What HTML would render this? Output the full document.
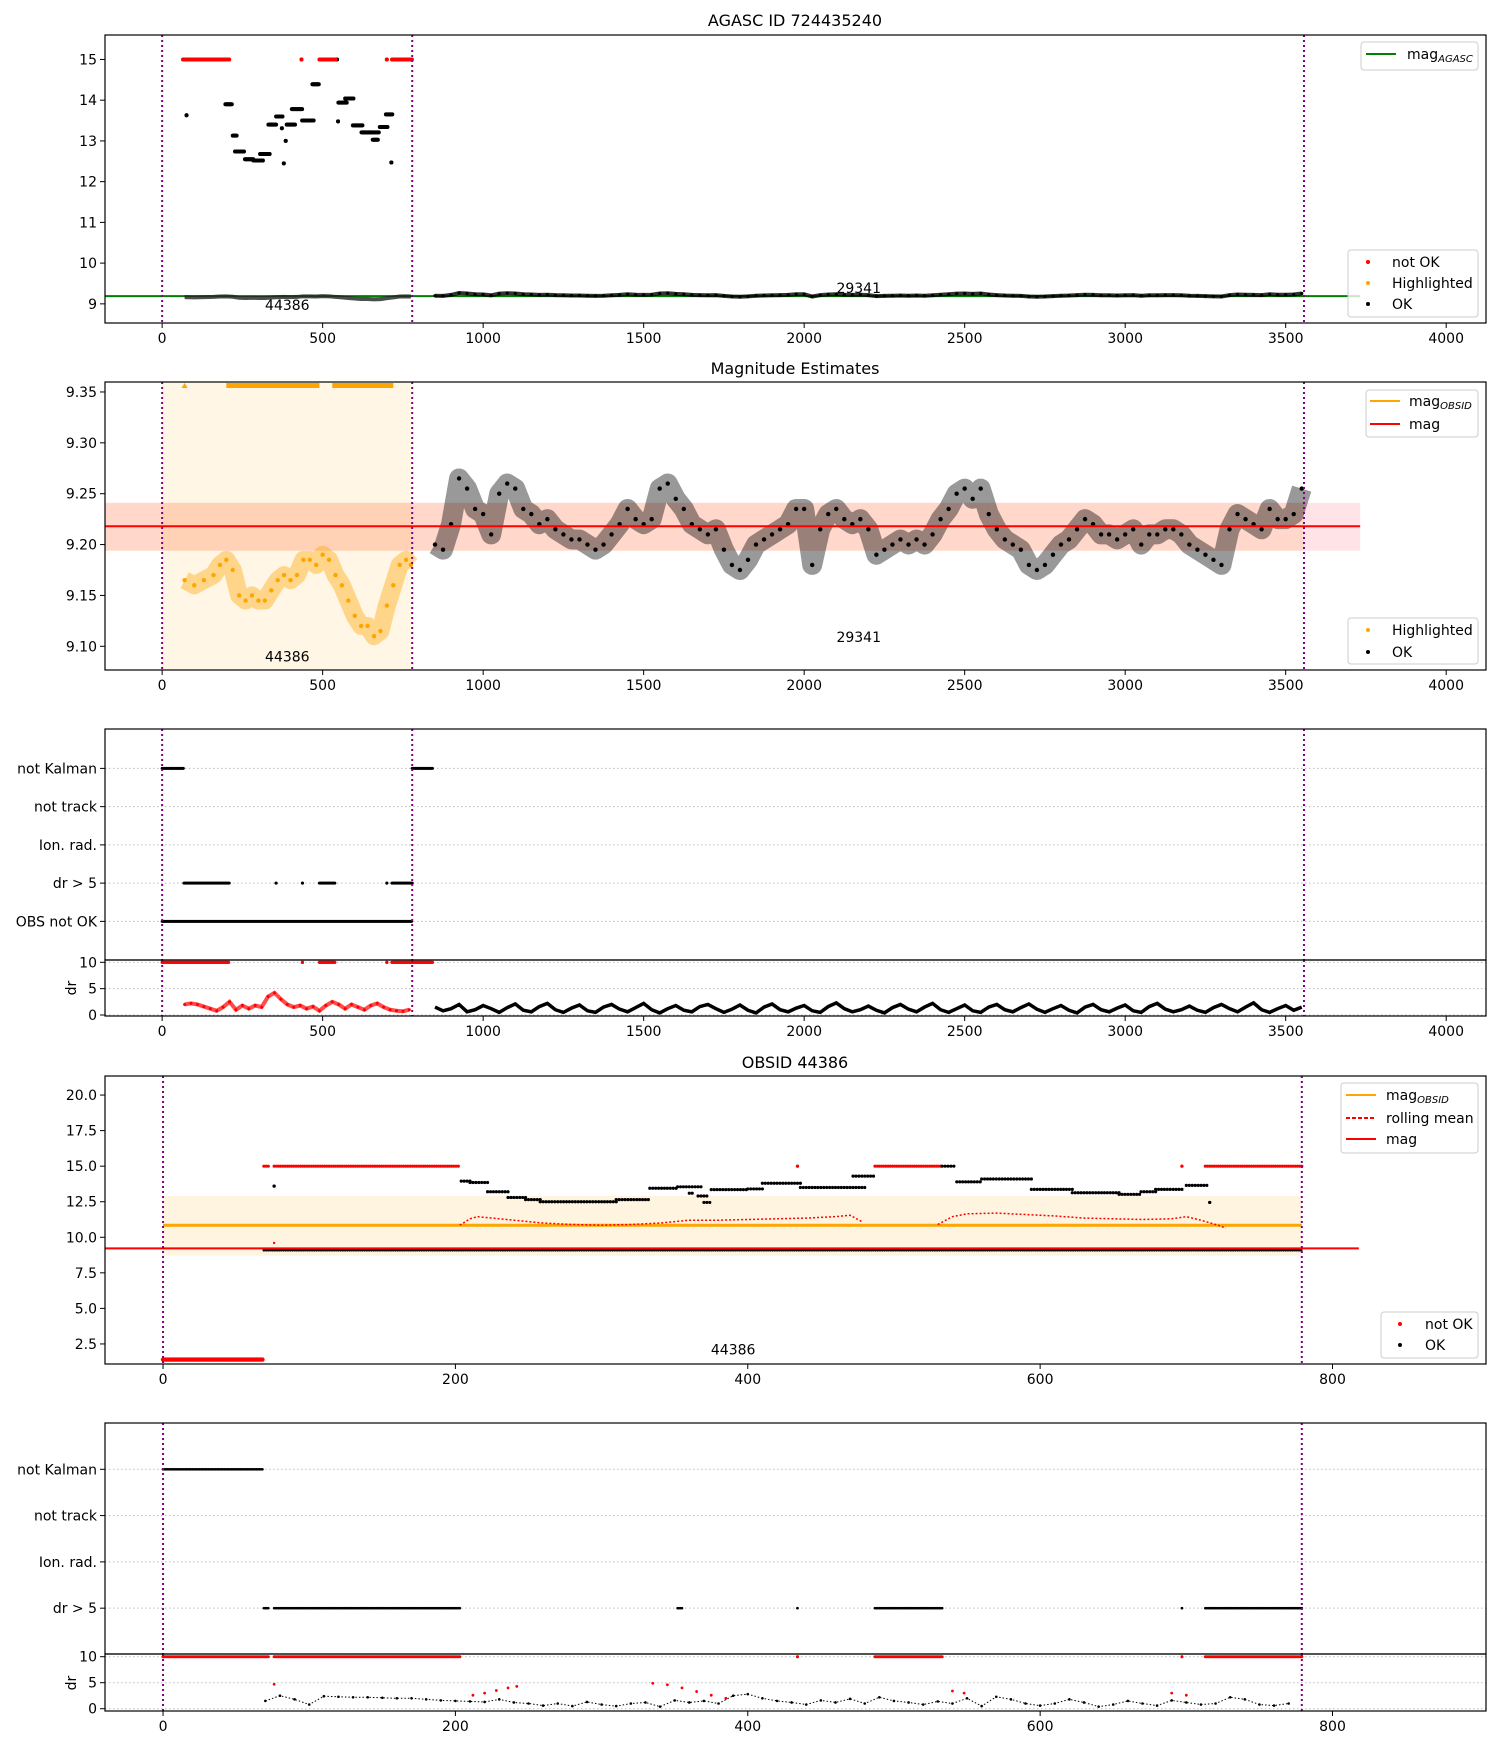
<!DOCTYPE html>
<html><head><meta charset="utf-8"><title>AGASC 724435240</title>
<style>
html,body{margin:0;padding:0;background:#fff;}
svg{display:block;font-family:"DejaVu Sans","Liberation Sans",sans-serif;}
</style></head>
<body>
<svg id="fig" width="1500" height="1750" viewBox="0 0 1500 1750" xmlns="http://www.w3.org/2000/svg"></svg>
<script>
// ---------- data ----------
const magStart = 850;
const magStep = 25;
const magOK = [9.20,9.195,9.22,9.265,9.255,9.235,9.23,9.21,9.25,9.26,9.255,9.235,9.23,9.22,9.225,9.215,9.21,9.205,9.205,9.2,9.195,9.2,9.21,9.22,9.235,9.225,9.22,9.225,9.255,9.26,9.245,9.235,9.22,9.215,9.21,9.215,9.195,9.18,9.175,9.185,9.2,9.205,9.21,9.215,9.22,9.235,9.235,9.18,9.215,9.23,9.235,9.225,9.22,9.225,9.215,9.19,9.195,9.2,9.205,9.2,9.205,9.2,9.21,9.225,9.235,9.25,9.255,9.245,9.255,9.23,9.215,9.205,9.2,9.195,9.18,9.175,9.18,9.19,9.2,9.205,9.215,9.225,9.22,9.21,9.21,9.205,9.21,9.215,9.2,9.21,9.21,9.215,9.215,9.21,9.2,9.195,9.19,9.185,9.18,9.215,9.23,9.225,9.22,9.215,9.235,9.225,9.225,9.23,9.255];
const hlX = [70,100,130,160,180,200,220,240,260,280,300,320,340,360,380,400,420,440,460,480,500,520,540,560,580,600,620,640,660,680,700,720,740,760,775];
const hlMag = [9.165,9.16,9.165,9.17,9.18,9.185,9.175,9.15,9.145,9.15,9.145,9.145,9.155,9.165,9.17,9.165,9.17,9.185,9.185,9.18,9.19,9.185,9.17,9.16,9.145,9.13,9.12,9.12,9.11,9.115,9.14,9.16,9.18,9.185,9.18];
const stairStart = [76,197,220,227,258,284,305,331,355,373,379,385,388,404,436,468,529,548,549,570,594,621,656,663,678,697,714];
const stairEnd   = [76,218,232,256,284,315,335,355,376,373,379,385,414,437,472,488,546,548,576,596,625,660,673,676,702,718,714];
const stairMag   = [13.63,13.9,13.13,12.74,12.55,12.52,12.68,13.40,13.60,13.31,12.45,13.0,13.40,13.78,13.50,14.39,15.0,13.48,13.94,14.04,13.38,13.21,13.03,13.21,13.34,13.65,12.47];
const notOkStart = [65,434,490,700,716];
const notOkEnd   = [209,434,540,700,779];
const magAgasc = 9.19;
const magMean = 9.218;
const magBandLo = 9.194;
const magBandHi = 9.241;
const obsStart = 0;
const obsEnd = 779;
const lastTime = 3557;
const flagLabels1 = ["not Kalman","not track","Ion. rad.","dr > 5","OBS not OK"];
const kalmanStart1 = [0,779];
const kalmanEnd1 = [68,843];
const dr5Start1 = [68,355,437,490,700,716];
const dr5End1 = [209,355,437,540,700,779];
const drRedStart = 70;
const drRedStep = 20;
const drRed = [2.0,2.2,2.0,1.6,1.2,0.8,1.5,2.5,1.0,1.8,1.2,1.8,1.5,3.5,4.2,3.0,2.0,1.5,1.8,1.2,1.6,0.8,1.8,2.5,2.0,1.2,2.0,1.5,1.0,1.8,2.2,1.5,1.0,0.8,0.7,1.0];
const drBlack = [1.5,0.8,1.2,2.0,0.6,1.0,1.8,1.2,0.5,1.4,2.1,0.9,0.6,1.6,2.2,1.0,0.5,1.3,1.9,0.8,0.5,1.5,2.0,1.1,0.6,1.4,2.2,1.0,0.4,1.2,1.8,0.9,0.6,1.6,2.0,1.2,0.5,1.1,1.9,0.9,0.4,1.5,2.1,1.0,0.6,1.3,1.8,0.8,0.5,1.6,2.3,1.2,0.6,1.0,1.7,0.9,0.4,1.4,2.0,1.1,0.6,1.5,2.2,1.0,0.5,1.2,1.9,0.8,0.5,1.5,2.0,1.0,0.6,1.4,2.1,1.1,0.5,1.2,1.8,0.9,0.4,1.5,2.0,1.0,0.6,1.3,1.9,0.8,0.5,1.6,2.2,1.1,0.6,1.0,1.7,0.9,0.5,1.4,2.0,1.2,0.6,1.5,2.3,1.0,0.5,1.2,1.8,0.9,1.5];
// OBSID 44386 panel
const obsMagObsid = 10.85;
const obsBandLo = 8.7;
const obsBandHi = 12.9;
const obsMag = 9.22;
const obsNotOkLowEnd = 68;
const obsNotOkLowMag = 1.4;
const obsNotOk15Start = [69,76,434,487,697,713];
const obsNotOk15End = [72,203,434,533,697,779];
const obsStairStart = [76,204,210,222,236,248,258,310,333,352,360,366,370,375,400,410,436,472,533,543,560,594,622,654,669,679,700,716];
const obsStairEnd   = [76,210,222,236,248,258,310,333,352,368,363,372,375,400,410,436,480,486,542,560,594,622,654,669,679,698,714,716];
const obsStairMag   = [13.6,13.95,13.85,13.2,12.8,12.65,12.5,12.65,13.45,13.55,13.1,12.9,12.45,13.35,13.4,13.8,13.5,14.3,15.0,13.9,14.1,13.37,13.13,13.02,13.2,13.37,13.65,12.45];
const obsOkLowMag = 9.1;
const rollX1 = [203,210,215,225,240,260,280,300,320,340,360,380,400,420,440,460,470,478];
const rollV1 = [10.85,11.3,11.45,11.35,11.2,11.0,10.9,10.85,10.9,11.0,11.2,11.2,11.25,11.3,11.35,11.45,11.55,11.1];
const rollX2 = [530,540,550,570,590,610,630,650,670,690,700,710,720,727];
const rollV2 = [10.9,11.45,11.65,11.7,11.6,11.5,11.35,11.3,11.25,11.3,11.45,11.2,10.9,10.65];
const flagLabels2 = ["not Kalman","not track","Ion. rad.","dr > 5"];
const obsDr5Start = [69,76,352,434,487,697,713];
const obsDr5End = [72,203,355,434,533,697,779];
const obsDrStart = 70;
const obsDrStep = 10;
const obsDr = [1.5,2.5,1.8,0.8,2.4,2.3,2.2,2.2,2.1,2.0,2.0,1.8,1.6,1.5,1.4,1.3,1.8,1.2,1.0,0.6,1.0,0.5,1.3,0.8,0.5,1.0,1.2,0.4,1.6,1.2,1.5,1.0,2.5,2.8,2.0,1.5,1.2,0.8,1.6,1.2,1.9,1.0,2.2,1.5,1.2,0.8,1.4,1.0,2.0,0.5,2.3,1.8,1.0,0.6,1.0,1.8,1.2,0.4,0.8,1.5,1.0,0.6,1.6,1.2,0.8,1.0,2.2,1.8,0.8,0.6,1.0];
const obsDrRedX = [76,212,220,228,236,242,335,345,355,365,375,385,540,548,690,700];
const obsDrRedV = [4.7,2.6,3.0,3.5,4.0,4.3,4.9,4.6,4.0,3.3,2.6,2.0,3.4,3.0,3.0,2.6];

// ---------- helpers ----------
const NS = 'http://www.w3.org/2000/svg';
const svg = document.getElementById('fig');
const FS = 14;
function mk(parent, tag, attrs, name) {
  const e = document.createElementNS(NS, tag);
  for (const k in attrs) e.setAttribute(k, attrs[k]);
  
  
  parent.appendChild(e);
  return e;
}
function txt(parent, x, y, s, name, opts) {
  opts = opts || {};
  const t = mk(parent, 'text', {x: x, y: y, 'font-size': opts.size || FS, 'text-anchor': opts.anchor || 'middle', fill: '#000'}, name);
  if (opts.transform) t.setAttribute('transform', opts.transform);
  t.textContent = s;
  return t;
}
let clipN = 0;
function axes(name, L, R, T, B, xmin, xmax, ymin, ymax) {
  const g = mk(svg, 'g', {}, name);
  const id = 'clip' + (clipN++);
  const cp = mk(g, 'clipPath', {id: id}, name + '-clip');
  mk(cp, 'rect', {x: L, y: T, width: R - L, height: B - T}, name + '-clip-rect');
  const inner = mk(g, 'g', {'clip-path': 'url(#' + id + ')'}, name + '-plot-area');
  return {g: g, inner: inner, L: L, R: R, T: T, B: B,
    x: v => L + (v - xmin) / (xmax - xmin) * (R - L),
    y: v => B - (v - ymin) / (ymax - ymin) * (B - T)};
}
function frame(a, name) {
  mk(a.g, 'rect', {x: a.L, y: a.T, width: a.R - a.L, height: a.B - a.T, fill: 'none', stroke: '#000', 'stroke-width': 1.2}, name);
}
function xticks(a, vals, name) {
  vals.forEach(v => {
    const px = a.x(v);
    mk(a.g, 'line', {x1: px, x2: px, y1: a.B, y2: a.B + 5, stroke: '#000'}, name + '-tick');
    txt(a.g, px, a.B + 20, String(v), name + '-label');
  });
}
function yticks(a, vals, fmt, name) {
  vals.forEach(v => {
    const py = a.y(v);
    mk(a.g, 'line', {x1: a.L - 5, x2: a.L, y1: py, y2: py, stroke: '#000'}, name + '-tick');
    txt(a.g, a.L - 8, py + 5, fmt(v), name + '-label', {anchor: 'end'});
  });
}
function dot(parent, x, y, r, c, name) {
  mk(parent, 'circle', {cx: x, cy: y, r: r, fill: c}, name);
}
function vline(a, v, name) {
  mk(a.inner, 'line', {x1: a.x(v), x2: a.x(v), y1: a.T, y2: a.B, stroke: 'purple', 'stroke-width': 2, 'stroke-dasharray': '2,3'}, name);
}
function poly(parent, xs, ys, style, name) {
  const pts = xs.map((x, i) => x + ',' + ys[i]).join(' ');
  const p = mk(parent, 'polyline', {points: pts, fill: 'none'}, name);
  for (const k in style) p.setAttribute(k, style[k]);
  return p;
}
function runDots(a, x0, x1, v, step, r, c, name) {
  for (let t = x0; t <= x1 + 0.01; t += step) dot(a.inner, a.x(t), a.y(v), r, c, name);
  if (x1 < x0 + step) dot(a.inner, a.x(x1), a.y(v), r, c, name);
}
function legendBox(g, x, y, w, h, name) {
  mk(g, 'rect', {x: x, y: y, width: w, height: h, rx: 3, fill: 'rgba(255,255,255,0.8)', stroke: '#ccc'}, name);
}
function legLine(g, x, y, color, dash, name) {
  const l = mk(g, 'line', {x1: x, x2: x + 30, y1: y, y2: y, stroke: color, 'stroke-width': 2}, name);
  if (dash) l.setAttribute('stroke-dasharray', dash);
}
function legMag(g, x, y, sub, name) {
  const t = mk(g, 'text', {x: x, y: y + 5, 'font-size': FS, fill: '#000'}, name);
  t.textContent = 'mag';
  const s = document.createElementNS(NS, 'tspan');
  
  
  s.setAttribute('font-size', 10);
  s.setAttribute('font-style', 'italic');
  s.setAttribute('dy', 3);
  s.textContent = sub;
  t.appendChild(s);
}
const xt1 = [0,500,1000,1500,2000,2500,3000,3500,4000];

// ---------- Panel 1 ----------
const a1 = axes('agasc-panel', 105, 1486, 35, 323, -178, 4124, 8.53, 15.6);
txt(svg, 795, 26, 'AGASC ID 724435240', 'title-agasc', {size: 16});
mk(a1.inner, 'line', {x1: a1.L, x2: a1.x(3732), y1: a1.y(magAgasc), y2: a1.y(magAgasc), stroke: 'green', 'stroke-width': 2}, 'mag-agasc-line');
poly(a1.inner, magOK.map((v, i) => a1.x(magStart + i * magStep)), magOK.map(v => a1.y(v)), {stroke: '#000', 'stroke-width': 4, 'stroke-opacity': 0.8}, 'ok-mag-trace');
magOK.forEach((v, i) => dot(a1.inner, a1.x(magStart + i * magStep), a1.y(v), 1.6, '#000', 'ok-point'));
poly(a1.inner, hlX.map(a1.x), hlMag.map(v => a1.y(v)), {stroke: '#222', 'stroke-width': 4, 'stroke-opacity': 0.8}, 'highlighted-mag-trace');
stairStart.forEach((s, i) => runDots(a1, s, stairEnd[i], stairMag[i], 2, 2, '#000', 'obs-ok-point'));
notOkStart.forEach((s, i) => runDots(a1, s, notOkEnd[i], 15, 2, 2, 'red', 'not-ok-point'));
vline(a1, obsStart, 'obs-start-marker'); vline(a1, obsEnd, 'obs-end-marker'); vline(a1, lastTime, 'last-obs-marker');
txt(a1.inner, a1.x(390), a1.y(8.85), '44386', 'obsid-label-44386');
txt(a1.inner, a1.x(2170), a1.y(9.27), '29341', 'obsid-label-29341');
frame(a1, 'agasc-frame');
xticks(a1, xt1, 'agasc-x');
yticks(a1, [9,10,11,12,13,14,15], v => String(v), 'agasc-y');
legendBox(a1.g, 1361, 42, 117, 28, 'legend-agasc-line');
legLine(a1.g, 1366, 54, 'green', null, 'legend-mag-agasc-line');
legMag(a1.g, 1407, 54, 'AGASC', 'legend-mag-agasc-text');
legendBox(a1.g, 1348, 250, 130, 67, 'legend-agasc-points');
dot(a1.g, 1368, 262, 2, 'red', 'legend-not-ok-marker'); txt(a1.g, 1392, 267, 'not OK', 'legend-not-ok-text', {anchor: 'start'});
dot(a1.g, 1368, 283, 2, 'orange', 'legend-highlighted-marker'); txt(a1.g, 1392, 288, 'Highlighted', 'legend-highlighted-text', {anchor: 'start'});
dot(a1.g, 1368, 304, 2, '#000', 'legend-ok-marker'); txt(a1.g, 1392, 309, 'OK', 'legend-ok-text', {anchor: 'start'});

// ---------- Panel 2 ----------
const a2 = axes('magnitude-panel', 105, 1486, 382, 670, -178, 4124, 9.0767, 9.3598);
txt(svg, 795, 374, 'Magnitude Estimates', 'title-magnitude', {size: 16});
mk(a2.inner, 'rect', {x: a2.x(obsStart), y: a2.T, width: a2.x(obsEnd) - a2.x(obsStart), height: a2.B - a2.T, fill: 'rgba(255,165,0,0.1)'}, 'obs-highlight-region');
mk(a2.inner, 'rect', {x: a2.L, y: a2.y(magBandHi), width: a2.x(3732) - a2.L, height: a2.y(magBandLo) - a2.y(magBandHi), fill: 'rgba(255,0,40,0.11)'}, 'mag-std-band');
mk(a2.inner, 'rect', {x: a2.L, y: a2.y(magBandHi), width: a2.x(3557) - a2.L, height: a2.y(magBandLo) - a2.y(magBandHi), fill: 'rgba(255,140,0,0.12)'}, 'mag-obsid-band');
poly(a2.inner, magOK.map((v, i) => a2.x(magStart + i * magStep)), magOK.map(v => a2.y(v)), {stroke: '#000', 'stroke-width': 20, 'stroke-opacity': 0.4, 'stroke-linejoin': 'round'}, 'ok-mag-cloud');
magOK.forEach((v, i) => dot(a2.inner, a2.x(magStart + i * magStep), a2.y(v), 2.2, '#000', 'ok-point'));
poly(a2.inner, hlX.map(a2.x), hlMag.map(v => a2.y(v)), {stroke: 'orange', 'stroke-width': 18, 'stroke-opacity': 0.4, 'stroke-linejoin': 'round'}, 'highlighted-mag-cloud');
hlX.forEach((x, i) => dot(a2.inner, a2.x(x), a2.y(hlMag[i]), 2.2, 'orange', 'highlighted-point'));
[[200,490],[530,720]].forEach(r => mk(a2.inner, 'rect', {x: a2.x(r[0]), y: a2.T + 1, width: a2.x(r[1]) - a2.x(r[0]), height: 5, fill: 'orange'}, 'clipped-highlight-markers'));
mk(a2.inner, 'polygon', {points: (a2.x(70) - 3) + ',' + (a2.T + 6) + ' ' + (a2.x(70) + 3) + ',' + (a2.T + 6) + ' ' + a2.x(70) + ',' + (a2.T + 1), fill: 'orange'}, 'clipped-highlight-marker');
mk(a2.inner, 'line', {x1: a2.L, x2: a2.x(3732), y1: a2.y(magMean), y2: a2.y(magMean), stroke: 'red', 'stroke-width': 2}, 'mag-line');
vline(a2, obsStart, 'obs-start-marker'); vline(a2, obsEnd, 'obs-end-marker'); vline(a2, lastTime, 'last-obs-marker');
txt(a2.inner, a2.x(390), a2.y(9.085), '44386', 'obsid-label-44386');
txt(a2.inner, a2.x(2170), a2.y(9.104), '29341', 'obsid-label-29341');
frame(a2, 'magnitude-frame');
xticks(a2, xt1, 'magnitude-x');
yticks(a2, [9.10,9.15,9.20,9.25,9.30,9.35], v => v.toFixed(2), 'magnitude-y');
legendBox(a2.g, 1366, 390, 112, 47, 'legend-magnitude-lines');
legLine(a2.g, 1370, 401, 'orange', null, 'legend-mag-obsid-line'); legMag(a2.g, 1409, 401, 'OBSID', 'legend-mag-obsid-text');
legLine(a2.g, 1370, 424, 'red', null, 'legend-mag-line'); txt(a2.g, 1409, 429, 'mag', 'legend-mag-text', {anchor: 'start'});
legendBox(a2.g, 1348, 618, 130, 46, 'legend-magnitude-points');
dot(a2.g, 1368, 630, 2, 'orange', 'legend-highlighted-marker'); txt(a2.g, 1392, 635, 'Highlighted', 'legend-highlighted-text', {anchor: 'start'});
dot(a2.g, 1368, 652, 2, '#000', 'legend-ok-marker'); txt(a2.g, 1392, 657, 'OK', 'legend-ok-text', {anchor: 'start'});

// ---------- Panel 3 flags ----------
const a3 = axes('flags-panel', 105, 1486, 729, 960, -178, 4124, 5.01, -1.03);
flagLabels1.forEach((f, i) => {
  mk(a3.inner, 'line', {x1: a3.L, x2: a3.R, y1: a3.y(i), y2: a3.y(i), stroke: '#bbb', 'stroke-dasharray': '1.5,2.5'}, 'flag-gridline');
});
kalmanStart1.forEach((s, i) => runDots(a3, s, kalmanEnd1[i], 0, 3, 1.5, '#000', 'not-kalman-flag'));
dr5Start1.forEach((s, i) => runDots(a3, s, dr5End1[i], 3, 3, 1.5, '#000', 'dr5-flag'));
runDots(a3, obsStart, obsEnd, 4, 3, 1.5, '#000', 'obs-not-ok-flag');
vline(a3, obsStart, 'obs-start-marker'); vline(a3, obsEnd, 'obs-end-marker'); vline(a3, lastTime, 'last-obs-marker');
frame(a3, 'flags-frame');
flagLabels1.forEach((f, i) => {
  mk(a3.g, 'line', {x1: a3.L - 5, x2: a3.L, y1: a3.y(i), y2: a3.y(i), stroke: '#000'}, 'flag-tick');
  txt(a3.g, a3.L - 8, a3.y(i) + 5, f, 'flag-label', {anchor: 'end'});
});
// dr subpanel
const a3d = axes('dr-panel', 105, 1486, 960, 1016, -178, 4124, -0.19, 10.44);
[0,5,10].forEach(v => mk(a3d.inner, 'line', {x1: a3d.L, x2: a3d.R, y1: a3d.y(v), y2: a3d.y(v), stroke: '#bbb', 'stroke-dasharray': '1.5,2.5'}, 'dr-gridline'));
[[0,209],[437,437],[490,540],[700,700],[716,843]].forEach(r => runDots(a3d, r[0], r[1], 10, 3, 1.6, 'red', 'dr-not-ok-point'));
poly(a3d.inner, drRed.map((v, i) => a3d.x(drRedStart + i * drRedStep)), drRed.map(v => a3d.y(v)), {stroke: 'red', 'stroke-width': 4, 'stroke-opacity': 0.7}, 'dr-highlighted-trace');
drRed.forEach((v, i) => dot(a3d.inner, a3d.x(drRedStart + i * drRedStep), a3d.y(v), 1.5, 'red', 'dr-red-point'));
poly(a3d.inner, drBlack.map((v, i) => a3d.x(magStart + i * magStep)), drBlack.map(v => a3d.y(v)), {stroke: '#000', 'stroke-width': 3.5}, 'dr-ok-trace');
vline(a3d, obsStart, 'obs-start-marker'); vline(a3d, obsEnd, 'obs-end-marker'); vline(a3d, lastTime, 'last-obs-marker');
frame(a3d, 'dr-frame');
xticks(a3d, xt1, 'dr-x');
yticks(a3d, [0,5,10], v => String(v), 'dr-y');
txt(svg, 72, 988, 'dr', 'dr-axis-title', {transform: 'rotate(-90 72 988)', anchor: 'middle'}).setAttribute('dy', 4);

// ---------- Panel 4 ----------
const a4 = axes('obsid-panel', 105, 1486, 1076, 1364, -39.7, 905, 1.09, 21.34);
txt(svg, 795, 1068, 'OBSID 44386', 'title-obsid', {size: 16});
mk(a4.inner, 'rect', {x: a4.x(obsStart), y: a4.y(obsBandHi), width: a4.x(obsEnd) - a4.x(obsStart), height: a4.y(obsBandLo) - a4.y(obsBandHi), fill: 'rgba(255,165,0,0.12)'}, 'mag-obsid-band');
runDots(a4, 0, obsNotOkLowEnd, obsNotOkLowMag, 1, 2.2, 'red', 'not-ok-low-point');
obsNotOk15Start.forEach((s, i) => runDots(a4, s, obsNotOk15End[i], 15, 1.5, 1.6, 'red', 'not-ok-point'));
obsStairStart.forEach((s, i) => runDots(a4, s, obsStairEnd[i], obsStairMag[i], 2, 1.6, '#000', 'ok-point'));
runDots(a4, 69, obsEnd, obsOkLowMag, 1.5, 1.4, '#000', 'ok-low-point');
dot(a4.inner, a4.x(76), a4.y(9.6), 1.2, 'red', 'not-ok-point');
mk(a4.inner, 'line', {x1: a4.x(0), x2: a4.x(obsEnd), y1: a4.y(obsMagObsid), y2: a4.y(obsMagObsid), stroke: 'orange', 'stroke-width': 3}, 'mag-obsid-line');
poly(a4.inner, rollX1.map(a4.x), rollV1.map(v => a4.y(v)), {stroke: 'red', 'stroke-width': 1.5, 'stroke-dasharray': '2,2'}, 'rolling-mean-line');
poly(a4.inner, rollX2.map(a4.x), rollV2.map(v => a4.y(v)), {stroke: 'red', 'stroke-width': 1.5, 'stroke-dasharray': '2,2'}, 'rolling-mean-line');
mk(a4.inner, 'line', {x1: a4.L, x2: a4.x(818), y1: a4.y(obsMag), y2: a4.y(obsMag), stroke: 'red', 'stroke-width': 2}, 'mag-line');
vline(a4, obsStart, 'obs-start-marker'); vline(a4, obsEnd, 'obs-end-marker');
txt(a4.inner, a4.x(390), a4.y(1.75), '44386', 'obsid-label-44386');
frame(a4, 'obsid-frame');
xticks(a4, [0,200,400,600,800], 'obsid-x');
yticks(a4, [2.5,5,7.5,10,12.5,15,17.5,20], v => v.toFixed(1), 'obsid-y');
legendBox(a4.g, 1341, 1083, 137, 70, 'legend-obsid-lines');
legLine(a4.g, 1346, 1095, 'orange', null, 'legend-mag-obsid-line'); legMag(a4.g, 1386, 1095, 'OBSID', 'legend-mag-obsid-text');
legLine(a4.g, 1346, 1118, 'red', '4,2', 'legend-rolling-mean-line'); txt(a4.g, 1386, 1123, 'rolling mean', 'legend-rolling-mean-text', {anchor: 'start'});
legLine(a4.g, 1346, 1139, 'red', null, 'legend-mag-line'); txt(a4.g, 1386, 1144, 'mag', 'legend-mag-text', {anchor: 'start'});
legendBox(a4.g, 1381, 1312, 97, 46, 'legend-obsid-points');
dot(a4.g, 1400, 1324, 2, 'red', 'legend-not-ok-marker'); txt(a4.g, 1425, 1329, 'not OK', 'legend-not-ok-text', {anchor: 'start'});
dot(a4.g, 1400, 1345, 2, '#000', 'legend-ok-marker'); txt(a4.g, 1425, 1350, 'OK', 'legend-ok-text', {anchor: 'start'});

// ---------- Panel 5 flags ----------
const a5 = axes('obsid-flags-panel', 105, 1486, 1423, 1654, -39.7, 905, 3.99, -1.0);
flagLabels2.forEach((f, i) => mk(a5.inner, 'line', {x1: a5.L, x2: a5.R, y1: a5.y(i), y2: a5.y(i), stroke: '#bbb', 'stroke-dasharray': '1.5,2.5'}, 'flag-gridline'));
runDots(a5, 0, 68, 0, 1, 1.3, '#000', 'not-kalman-flag');
obsDr5Start.forEach((s, i) => runDots(a5, s, obsDr5End[i], 3, 1, 1.3, '#000', 'dr5-flag'));
vline(a5, obsStart, 'obs-start-marker'); vline(a5, obsEnd, 'obs-end-marker');
frame(a5, 'obsid-flags-frame');
flagLabels2.forEach((f, i) => {
  mk(a5.g, 'line', {x1: a5.L - 5, x2: a5.L, y1: a5.y(i), y2: a5.y(i), stroke: '#000'}, 'flag-tick');
  txt(a5.g, a5.L - 8, a5.y(i) + 5, f, 'flag-label', {anchor: 'end'});
});
const a5d = axes('obsid-dr-panel', 105, 1486, 1654, 1711, -39.7, 905, -0.44, 10.52);
[0,5,10].forEach(v => mk(a5d.inner, 'line', {x1: a5d.L, x2: a5d.R, y1: a5d.y(v), y2: a5d.y(v), stroke: '#bbb', 'stroke-dasharray': '1.5,2.5'}, 'dr-gridline'));
[[0,72],[76,203],[434,434],[487,533],[697,697],[713,779]].forEach(r => runDots(a5d, r[0], r[1], 10, 1, 1.5, 'red', 'dr-not-ok-point'));
obsDr.forEach((v, i) => dot(a5d.inner, a5d.x(obsDrStart + i * obsDrStep), a5d.y(v), 1.3, '#000', 'dr-ok-point'));
poly(a5d.inner, obsDr.map((v, i) => a5d.x(obsDrStart + i * obsDrStep)), obsDr.map(v => a5d.y(v)), {stroke: '#000', 'stroke-width': 1, 'stroke-dasharray': '1.5,2'}, 'dr-ok-trace');
obsDrRedX.forEach((x, i) => dot(a5d.inner, a5d.x(x), a5d.y(obsDrRedV[i]), 1.4, 'red', 'dr-red-point'));
vline(a5d, obsStart, 'obs-start-marker'); vline(a5d, obsEnd, 'obs-end-marker');
frame(a5d, 'obsid-dr-frame');
xticks(a5d, [0,200,400,600,800], 'obsid-dr-x');
yticks(a5d, [0,5,10], v => String(v), 'obsid-dr-y');
txt(svg, 72, 1683, 'dr', 'obsid-dr-axis-title', {transform: 'rotate(-90 72 1683)', anchor: 'middle'}).setAttribute('dy', 4);
</script>
</body></html>
